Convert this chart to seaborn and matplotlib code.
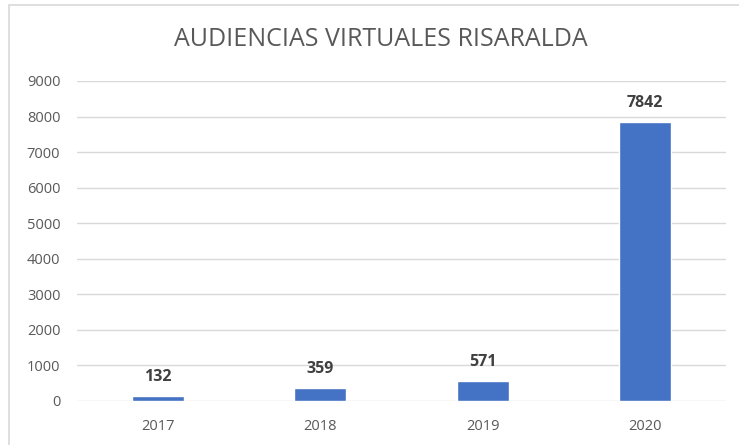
import matplotlib
matplotlib.use("Agg")
import matplotlib.pyplot as plt
import seaborn as sns
import pandas as pd
from matplotlib.patches import Rectangle

years = ["2017", "2018", "2019", "2020"]
values = [132, 359, 571, 7842]
title = "AUDIENCIAS VIRTUALES RISARALDA"

sns.set_theme(style="white")
plt.rcParams['font.family'] = ['Open Sans', 'DejaVu Sans']

df = pd.DataFrame({"year": years, "value": values})

fig = plt.figure(figsize=(7.39, 4.45), dpi=100)
ax = fig.add_axes([77/739, 1-401/445, (726-77)/739, (401-81)/445])

sns.barplot(data=df, x="year", y="value", color="#4472C4", width=0.32,
            saturation=1, ax=ax, zorder=3)

ax.set_ylim(0, 9000)
ax.set_yticks(range(0, 9001, 1000))
ax.yaxis.grid(True, color="#D9D9D9", linewidth=1, zorder=0)
ax.set_axisbelow(True)
for s in ax.spines.values():
    s.set_visible(False)
ax.set_xlabel("")
ax.set_ylabel("")
ax.tick_params(axis="both", length=0, labelsize=10.5, labelcolor="#595959")
ax.tick_params(axis="y", pad=12)
ax.tick_params(axis="x", pad=13)

for c in ax.containers:
    ax.bar_label(c, fmt="%d", padding=8, fontsize=11.5, fontweight="bold", color="#404040")

fig.text(381/739, 1-40/445, title, ha="center", va="center",
         fontsize=18, color="#595959")

fig.patches.append(Rectangle((9/739, -0.1), 1.0, 1-5/445+0.1, transform=fig.transFigure,
                             fill=False, edgecolor="#D9D9D9", linewidth=1.2, figure=fig))

fig.savefig("out.png", dpi=100)
